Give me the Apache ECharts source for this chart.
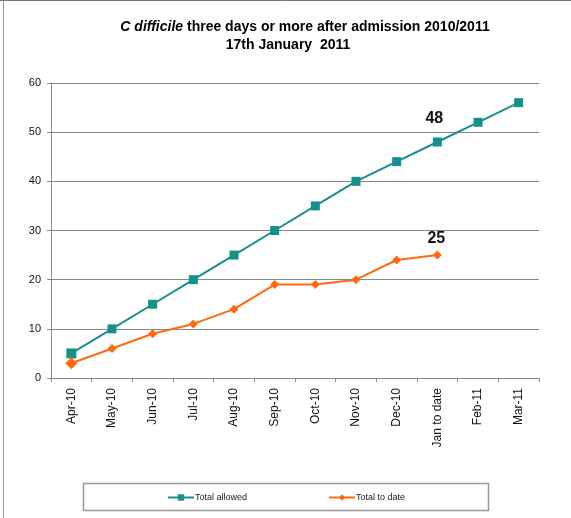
<!DOCTYPE html>
<html>
<head>
<meta charset="utf-8">
<script src="https://cdn.jsdelivr.net/npm/echarts@6/dist/echarts.min.js"></script>
<style>
  html, body { margin: 0; padding: 0; background: #fff; }
  #chart { width: 571px; height: 518px; }
</style>
</head>
<body>
<div id="chart"></div>
<script>
// Month categories for the 2010/2011 financial year
const categories = ['Apr-10', 'May-10', 'Jun-10', 'Jul-10', 'Aug-10', 'Sep-10',
  'Oct-10', 'Nov-10', 'Dec-10', 'Jan to date', 'Feb-11', 'Mar-11'];

// Cumulative trajectory (allowed) and actual cases to date
const totalAllowed = [5, 10, 15, 20, 25, 30, 35, 40, 44, 48, 52, 56];
const totalToDate = [3, 6, 9, 11, 14, 19, 19, 20, 24, 25, null, null];

// Y axis ticks
const yTicks = [0, 10, 20, 30, 40, 50, 60];

const labelMonth = 'Jan to date';
const labelIdx = categories.indexOf(labelMonth);

const TEAL = '#16908A';
const ORANGE = '#FF6A10';
const FONT = 'Liberation Sans, Arial, sans-serif';

function withLabel(values, distance, dx) {
  return values.map((v, i) => {
    if (i !== labelIdx || v == null) return v;
    return {
      value: v,
      label: {
        show: true, position: 'top', distance: distance, offset: [dx, 0],
        fontSize: 16, fontWeight: 'bold', color: '#111', fontFamily: FONT
      }
    };
  });
}

const chart = echarts.init(document.getElementById('chart'), null, { renderer: 'canvas' });

chart.setOption({
  animation: false,
  backgroundColor: '#fff',
  title: [
    {
      text: '{i|C difficile} three days or more after admission 2010/2011',
      left: 300, top: 15, textAlign: 'center',
      textStyle: {
        fontSize: 14, fontWeight: 'bold', color: '#000', fontFamily: FONT,
        rich: { i: { fontSize: 14, fontWeight: 'bold', fontStyle: 'italic', color: '#000', fontFamily: FONT } }
      }
    },
    {
      text: '17th January  2011',
      left: 283, top: 33, textAlign: 'center',
      textStyle: { fontSize: 14, fontWeight: 'bold', color: '#000', fontFamily: FONT }
    }
  ],
  graphic: [
    { type: 'line', shape: { x1: 0, y1: 0.5, x2: 571, y2: 0.5 }, style: { stroke: '#777', lineWidth: 1 } },
    { type: 'line', shape: { x1: 3.5, y1: 0, x2: 3.5, y2: 518 }, style: { stroke: '#999', lineWidth: 1 } },
    { type: 'rect', shape: { x: 83.5, y: 483.5, width: 405, height: 27 }, style: { fill: 'none', stroke: '#999', lineWidth: 1.5 } }
  ],
  legend: {
    left: 162, top: 488,
    itemWidth: 26, itemHeight: 8, itemGap: 81,
    textStyle: { fontSize: 9, color: '#222', fontFamily: FONT, padding: [0, 0, 0, -4] },
    data: ['Total allowed', 'Total to date']
  },
  grid: { left: 51, right: 32, top: 83, bottom: 140, containLabel: false },
  xAxis: {
    type: 'category',
    data: categories,
    boundaryGap: true,
    axisLine: { lineStyle: { color: '#888', width: 1 } },
    axisTick: { show: true, length: 4, inside: false, lineStyle: { color: '#888' } },
    axisLabel: { rotate: 90, fontSize: 12, color: '#111', fontFamily: FONT, margin: 10, interval: 0 }
  },
  yAxis: {
    type: 'value',
    min: yTicks[0], max: yTicks[yTicks.length - 1], interval: 10,
    axisLine: { show: true, lineStyle: { color: '#888', width: 1 } },
    axisTick: { show: true, length: 4, lineStyle: { color: '#888' } },
    axisLabel: { fontSize: 11, color: '#111', fontFamily: FONT, margin: 10 },
    splitLine: { show: true, lineStyle: { color: '#888', width: 1 } }
  },
  series: [
    {
      name: 'Total allowed', type: 'line',
      data: withLabel(totalAllowed, 11, -3),
      symbol: 'rect',
      symbolSize: (v, p) => (p.dataIndex === 0 ? 10 : 9),
      lineStyle: { color: TEAL, width: 2 },
      itemStyle: { color: TEAL },
      z: 3
    },
    {
      name: 'Total to date', type: 'line',
      data: withLabel(totalToDate, 4, -1),
      symbol: 'diamond',
      symbolSize: (v, p) => (p.dataIndex === 0 ? 12 : 9),
      lineStyle: { color: ORANGE, width: 2 },
      itemStyle: { color: ORANGE },
      z: 4
    }
  ]
});
</script>
</body>
</html>
